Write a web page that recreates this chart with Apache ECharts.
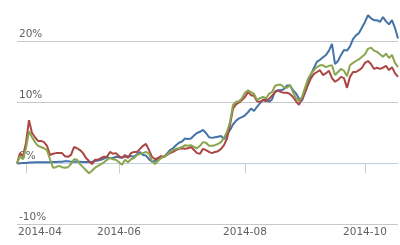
<!DOCTYPE html>
<html><head><meta charset="utf-8">
<script src="https://cdn.jsdelivr.net/npm/echarts@6/dist/echarts.min.js"></script>
<style>html,body{margin:0;padding:0;background:#fff}#c{width:400px;height:245px}</style>
</head><body><div id="c"></div>
<script>
const xTickLabels = ['2014-04', '2014-06', '2014-08', '2014-10'];
const xTickIndex = [3, 34, 76, 116];
const yTicks = [-10, 0, 10, 20];
const seriesNames = ['Blue', 'Red', 'Green'];
const blue = [0,0.05,0.1,0.1,0.15,0.15,0.2,0.2,0.2,0.2,0.2,0.2,0.25,0.25,0.3,0.3,0.35,0.35,0.3,0.3,0.3,0.3,0.25,0.25,0.25,0.3,0.4,0.5,0.6,0.8,1.0,0.9,0.9,1.1,1.0,1.0,1.1,1.2,1.2,1.1,1.5,1.9,1.4,1.3,0.7,0.3,0.4,0.85,1.0,1.1,1.6,2.2,2.5,3.0,3.4,3.6,4.1,4.0,4.1,4.6,5.0,5.2,5.5,5.0,4.3,4.2,4.3,4.4,4.5,4.0,4.7,5.5,6.4,7.0,7.4,7.6,7.9,8.4,9.0,8.6,9.3,9.9,10.4,10.6,10.1,10.5,11.8,12.0,12.0,12.2,12.8,12.8,12.0,11.5,10.6,10.3,11.6,13.0,14.6,15.7,16.7,17.0,17.4,17.8,18.5,19.6,16.3,16.8,17.8,18.6,18.5,19.2,20.4,21.0,21.4,22.3,23.2,24.3,23.8,23.5,23.5,23.2,24.0,23.3,22.8,23.5,22.2,20.5];
const red = [0,1.7,1.2,3.4,7.1,5.0,4.3,3.7,3.7,3.5,2.9,1.4,1.6,1.7,1.7,1.7,1.2,1.1,1.4,2.7,2.5,2.2,1.7,0.9,0.4,-0.1,0.6,0.6,0.9,1.1,1.1,1.9,1.6,1.7,1.2,0.9,1.4,0.9,1.7,1.9,1.9,2.4,2.9,3.2,2.2,1.1,0.7,0.9,1.2,1.1,1.4,1.7,1.9,2.2,2.4,2.5,2.4,2.5,2.7,2.2,1.7,1.6,2.4,2.2,1.9,1.7,1.9,2.0,2.4,3.0,4.1,6.3,9.0,9.7,10.0,10.4,10.9,11.7,11.2,11.1,10.2,10.1,10.4,10.2,10.6,11.1,11.7,12.0,11.7,11.6,11.6,11.4,10.9,10.2,9.6,10.6,11.7,12.9,14.0,14.7,15.0,15.3,14.5,14.8,15.2,14.0,13.4,13.7,14.2,14.0,12.4,14.2,15.0,15.0,15.3,15.7,16.5,16.8,16.3,15.5,15.7,15.5,15.7,16.0,15.3,15.8,14.8,14.2];
const green = [0,1.2,0.7,2.5,5.3,4.3,3.5,2.9,2.7,2.5,2.2,0.7,-0.7,-0.6,-0.4,-0.6,-0.7,-0.6,-0.1,0.7,0.6,-0.1,-0.6,-1.1,-1.6,-1.2,-0.7,-0.4,-0.1,0.2,0.6,0.9,0.7,0.6,0.2,-0.2,0.6,0.2,0.7,0.9,1.4,1.6,1.7,1.9,1.6,0.4,-0.1,0.4,0.9,1.1,1.4,1.9,2.2,2.4,2.5,2.7,3.0,2.9,3.0,2.7,2.5,2.9,3.5,3.4,2.9,2.9,3.0,3.2,3.5,4.2,5.2,6.8,9.6,10.1,10.2,10.7,11.6,12.0,11.7,11.4,10.4,10.7,10.9,10.7,11.4,11.7,12.7,12.9,12.9,12.5,12.4,12.9,11.7,10.7,10.2,10.9,12.4,13.9,14.7,15.3,15.8,16.1,16.1,15.8,16.0,16.1,14.5,15.0,15.5,15.2,14.3,16.1,16.5,16.8,17.1,17.5,17.9,18.8,19.0,18.5,18.3,17.9,17.5,18.0,17.3,17.8,16.5,15.8];
const colors = ['#4572A7', '#AA4643', '#89A54E'];
const yMax = 26.8;

const categories = blue.map((_, i) => String(i));
const font = 'DejaVu Sans';
const chart = echarts.init(document.getElementById('c'), null, {renderer: 'canvas'});
chart.setOption({
  animation: false,
  grid: {left: 17, right: 2, top: 0, bottom: 20.5, containLabel: false},
  xAxis: {
    type: 'category', data: categories, boundaryGap: false,
    axisLine: {lineStyle: {color: '#C0D0E0', width: 1}},
    axisTick: {show: true, length: 10, inside: false, lineStyle: {color: '#C0D0E0'},
      interval: (i) => xTickIndex.includes(i)},
    axisLabel: {
      interval: (i) => xTickIndex.includes(i),
      margin: 2, color: '#606060', fontFamily: font, fontSize: 10.5,
      formatter: (v, i) => {
        const k = xTickIndex.indexOf(i);
        if (k < 0) return '';
        return k === 0 ? '{f|' + xTickLabels[k] + '}' : xTickLabels[k];
      },
      rich: {f: {padding: [0, 0, 0, 28], color: '#606060', fontFamily: font, fontSize: 10.5}}
    },
    splitLine: {show: false}
  },
  yAxis: {
    type: 'value', min: yTicks[0], max: yMax, interval: 10,
    axisLine: {show: false}, axisTick: {show: false},
    axisLabel: {inside: true, margin: 2, align: 'left', verticalAlign: 'bottom', padding: [0, 0, 2, 0],
      color: '#606060', fontFamily: font, fontSize: 10.5, showMaxLabel: false,
      formatter: (v) => yTicks.includes(v) ? v + '%' : ''},
    splitLine: {showMaxLine: false, lineStyle: {color: '#C8C8C8', width: 1}}
  },
  series: [blue, red, green].map((d, k) => ({
    name: seriesNames[k], type: 'line', data: d, showSymbol: false, symbol: 'none',
    lineStyle: {color: colors[k], width: 2}, itemStyle: {color: colors[k]}, z: 2 + k
  }))
});
</script></body></html>
